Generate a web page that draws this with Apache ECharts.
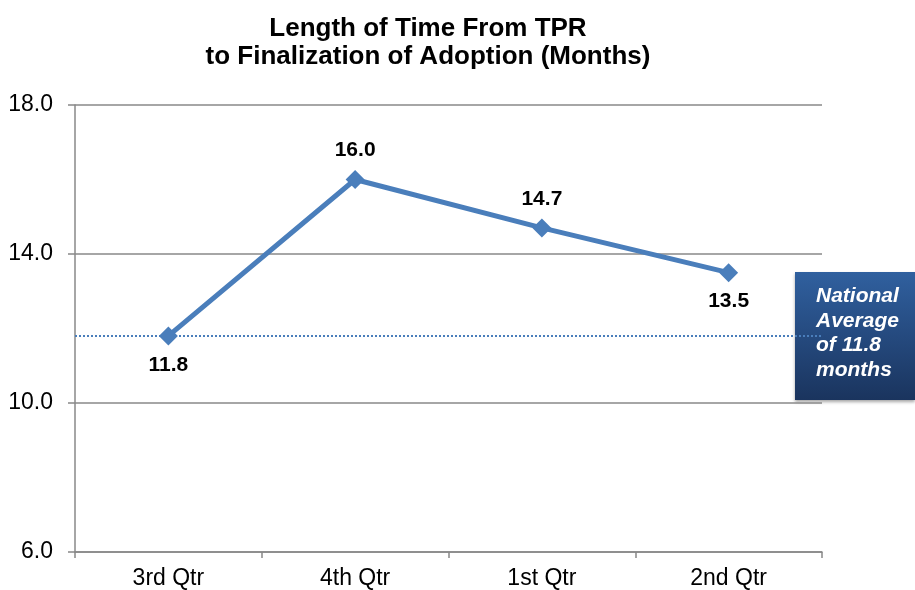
<!DOCTYPE html>
<html>
<head>
<meta charset="utf-8">
<script src="https://cdn.jsdelivr.net/npm/echarts@6/dist/echarts.min.js"></script>
<style>
  html, body { margin: 0; padding: 0; background: #fff; }
  #chart { width: 915px; height: 590px; }
</style>
</head>
<body>
<div id="chart"></div>
<script>
// Quarterly length of time from TPR to finalization of adoption
var quarters = ['3rd Qtr', '4th Qtr', '1st Qtr', '2nd Qtr'];
var months = [11.8, 16.0, 14.7, 13.5];
var labelSides = ['bottom', 'top', 'top', 'bottom'];
var nationalAverage = 11.8;
var yTicks = [6, 10, 14, 18];

var FONT = 'Liberation Sans, Arial, sans-serif';
var chart = echarts.init(document.getElementById('chart'));

chart.setOption({
  backgroundColor: '#ffffff',
  animation: false,
  title: {
    text: 'Length of Time From TPR\nto Finalization of Adoption (Months)',
    left: 423,
    top: 10,
    textAlign: 'center',
    textStyle: { fontFamily: FONT, fontSize: 26, fontWeight: 'bold', color: '#000', lineHeight: 28 }
  },
  grid: { left: 75, right: 93, top: 105, bottom: 38 },
  xAxis: {
    type: 'category',
    data: quarters,
    boundaryGap: true,
    axisLine: { lineStyle: { color: '#888888', width: 1.5 } },
    axisTick: { show: true, length: 6, alignWithLabel: false, lineStyle: { color: '#888888', width: 1.5 } },
    axisLabel: { fontFamily: FONT, fontSize: 23, color: '#000', margin: 15 }
  },
  yAxis: {
    type: 'value',
    min: yTicks[0],
    max: yTicks[yTicks.length - 1],
    interval: yTicks[1] - yTicks[0],
    axisLine: { show: true, lineStyle: { color: '#888888', width: 1.5 } },
    axisTick: { show: true, length: 7, lineStyle: { color: '#888888', width: 1.5 } },
    splitLine: { show: true, lineStyle: { color: '#888888', width: 1.5 } },
    axisLabel: {
      fontFamily: FONT, fontSize: 23, color: '#000', margin: 22,
      formatter: function (v) { return v.toFixed(1); }
    }
  },
  series: [{
    type: 'line',
    data: months.map(function (v, i) {
      return { value: v, label: { position: labelSides[i] } };
    }),
    symbol: 'diamond',
    symbolSize: 19,
    lineStyle: { color: '#4a7ebb', width: 5 },
    itemStyle: { color: '#4a7ebb' },
    label: {
      show: true,
      distance: 9,
      fontFamily: FONT,
      fontSize: 21,
      fontWeight: 'bold',
      color: '#000',
      formatter: function (p) { return p.value.toFixed(1); }
    },
    markLine: {
      silent: true,
      symbol: ['none', 'none'],
      label: { show: false },
      lineStyle: { color: '#4a7ebb', type: [2, 2], width: 2.2 },
      data: [{ yAxis: nationalAverage }]
    },
    z: 3
  }],
  graphic: [{
    type: 'group',
    left: 795,
    top: 272,
    z: 10,
    children: [{
      type: 'rect',
      shape: { x: 0, y: 0, width: 120, height: 128 },
      style: {
        fill: new echarts.graphic.LinearGradient(0, 0, 0, 1, [
          { offset: 0, color: '#30609f' },
          { offset: 1, color: '#1a345e' }
        ]),
        shadowBlur: 3,
        shadowColor: 'rgba(0,0,0,0.35)',
        shadowOffsetY: 2
      }
    }, {
      type: 'text',
      left: 21,
      top: 12,
      style: {
        text: 'National\nAverage\nof 11.8\nmonths',
        fill: '#ffffff',
        font: 'italic bold 21px ' + FONT,
        lineHeight: 24.5
      }
    }]
  }]
});
</script>
</body>
</html>
